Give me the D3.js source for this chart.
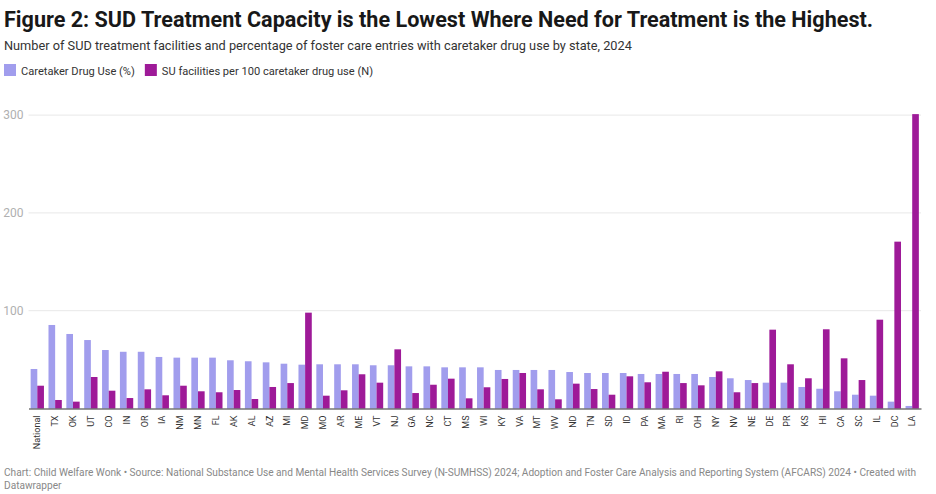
<!DOCTYPE html>
<html>
<head>
    <meta charset="utf-8">
    <script src="https://d3js.org/d3.v7.min.js"></script>
    <style>
        body { margin: 0; background: #fff; font-family: Roboto, Arial, sans-serif; }
    </style>
</head>
<body>
    <div id="chart"></div>
    <script>
        const states = ["National", "TX", "OK", "UT", "CO", "IN", "OR", "IA", "NM", "MN", "FL", "AK", "AL", "AZ", "MI", "MD",
            "MO", "AR", "ME", "VT", "NJ", "GA", "NC", "CT", "MS", "WI", "KY", "VA", "MT", "WV", "ND", "TN", "SD",
            "ID", "PA", "MA", "RI", "OH", "NY", "NV", "NE", "DE", "PR", "KS", "HI", "CA", "SC", "IL", "DC", "LA"];
        const drugUse = [40.4, 85.4, 76.2, 70, 59.8, 58, 58, 52.7, 52, 52, 52, 49.3, 48.3, 47.2, 45.8, 44.8,
            45.2, 45.2, 45.2, 44.2, 44.2, 43.1, 43.1, 42.1, 42.1, 42.1, 39.4, 39.4, 39.4, 39.4, 37.3, 36.3, 36.3,
            36.3, 35.3, 35.3, 35.3, 35.3, 32.2, 30.9, 29.1, 26.4, 26.4, 22, 20.2, 17.6, 14.1, 13.1, 7, 2.6];
        const facilities = [23.3, 8.7, 7, 32.2, 18.2, 10.7, 19.6, 13.5, 23.3, 17.6, 16.6, 18.9, 9.7, 22, 26, 98,
            13.1, 18.6, 35, 26.4, 60.5, 15.8, 24.3, 30.5, 10.4, 21.7, 30.2, 36.3, 19.6, 9.4, 25.4, 19.9, 14.1,
            32.9, 26.8, 37.6, 26, 23.7, 38, 16.6, 26, 80.6, 45.2, 30.9, 81, 51.3, 29.1, 90.8, 170.6, 301];
        const yTicks = [100, 200, 300];
        const seriesNames = ["Caretaker Drug Use (%)", "SU facilities per 100 caretaker drug use (N)"];
        const colors = ["#a19ded", "#9e1a98"];

        const width = 936, height = 494;
        const margin = { top: 115, right: 15, bottom: 85.5, left: 28.5 };
        const innerW = width - margin.left - margin.right;
        const innerH = height - margin.top - margin.bottom;

        const svg = d3.select("#chart").append("svg")
            .attr("width", width)
            .attr("height", height);

        // header
        svg.append("text")
            .attr("x", 4).attr("y", 27)
            .style("font-size", "21.6px").style("font-weight", "700").style("fill", "#181818")
            .text("Figure 2: SUD Treatment Capacity is the Lowest Where Need for Treatment is the Highest.");
        svg.append("text")
            .attr("x", 4).attr("y", 50)
            .style("font-size", "12.75px").style("fill", "#333")
            .text("Number of SUD treatment facilities and percentage of foster care entries with caretaker drug use by state, 2024");

        // legend
        let lx = 4;
        seriesNames.forEach((name, i) => {
            svg.append("rect").attr("x", lx).attr("y", 64).attr("width", 12).attr("height", 12).attr("fill", colors[i]);
            const t = svg.append("text").attr("x", lx + 17).attr("y", 74.5)
                .style("font-size", "11.1px").style("fill", "#333").text(name);
            lx += 17 + t.node().getComputedTextLength() + 10;
        });

        const g = svg.append("g").attr("transform", `translate(${margin.left},${margin.top})`);

        const x = d3.scaleBand().domain(states).range([0, innerW]).paddingInner(0.255).paddingOuter(0.12);
        const x1 = d3.scaleBand().domain([0, 1]).range([0, x.bandwidth()]);
        const y = d3.scaleLinear().domain([0, 300]).range([innerH, innerH - 300 * 0.978]);

        // gridlines + labels
        g.append("g")
            .selectAll("line").data(yTicks).join("line")
            .attr("x1", 0).attr("x2", innerW)
            .attr("y1", d => y(d)).attr("y2", d => y(d))
            .attr("stroke", "#e8e8e8").attr("stroke-width", 1);
        g.append("g")
            .selectAll("text").data(yTicks).join("text")
            .attr("x", -5).attr("y", d => y(d) + 4)
            .attr("text-anchor", "end")
            .style("font-size", "12px").style("fill", "#b0b0b0")
            .text(d => d);

        // bars
        const groups = g.selectAll(".grp").data(states).join("g")
            .attr("class", "grp")
            .attr("transform", d => `translate(${x(d)},0)`);
        groups.append("rect")
            .attr("x", x1(0)).attr("width", x1.bandwidth())
            .attr("y", (d, i) => y(drugUse[i])).attr("height", (d, i) => y(0) - y(drugUse[i]))
            .attr("fill", colors[0]);
        groups.append("rect")
            .attr("x", x1(1)).attr("width", x1.bandwidth())
            .attr("y", (d, i) => y(facilities[i])).attr("height", (d, i) => y(0) - y(facilities[i]))
            .attr("fill", colors[1]);

        // x axis
        const xAxis = g.append("g")
            .attr("transform", `translate(0,${innerH})`)
            .call(d3.axisBottom(x).tickSize(0).tickSizeOuter(0));
        xAxis.select(".domain").attr("stroke", "#333").attr("stroke-width", 1.2);
        xAxis.selectAll("text")
            .attr("transform", "rotate(-90)")
            .attr("x", -7).attr("y", 0).attr("dy", "0.35em")
            .attr("text-anchor", "end")
            .style("font-family", "Roboto, Arial, sans-serif")
            .style("font-size", "9px").style("fill", "#333");

        // footer
        svg.append("text")
            .attr("x", 4).attr("y", 476)
            .style("font-size", "10.15px").style("fill", "#888")
            .text("Chart: Child Welfare Wonk • Source: National Substance Use and Mental Health Services Survey (N-SUMHSS) 2024; Adoption and Foster Care Analysis and Reporting System (AFCARS) 2024 • Created with");
        svg.append("text")
            .attr("x", 4).attr("y", 489)
            .style("font-size", "10.15px").style("fill", "#888")
            .text("Datawrapper");
    </script>
</body>
</html>
